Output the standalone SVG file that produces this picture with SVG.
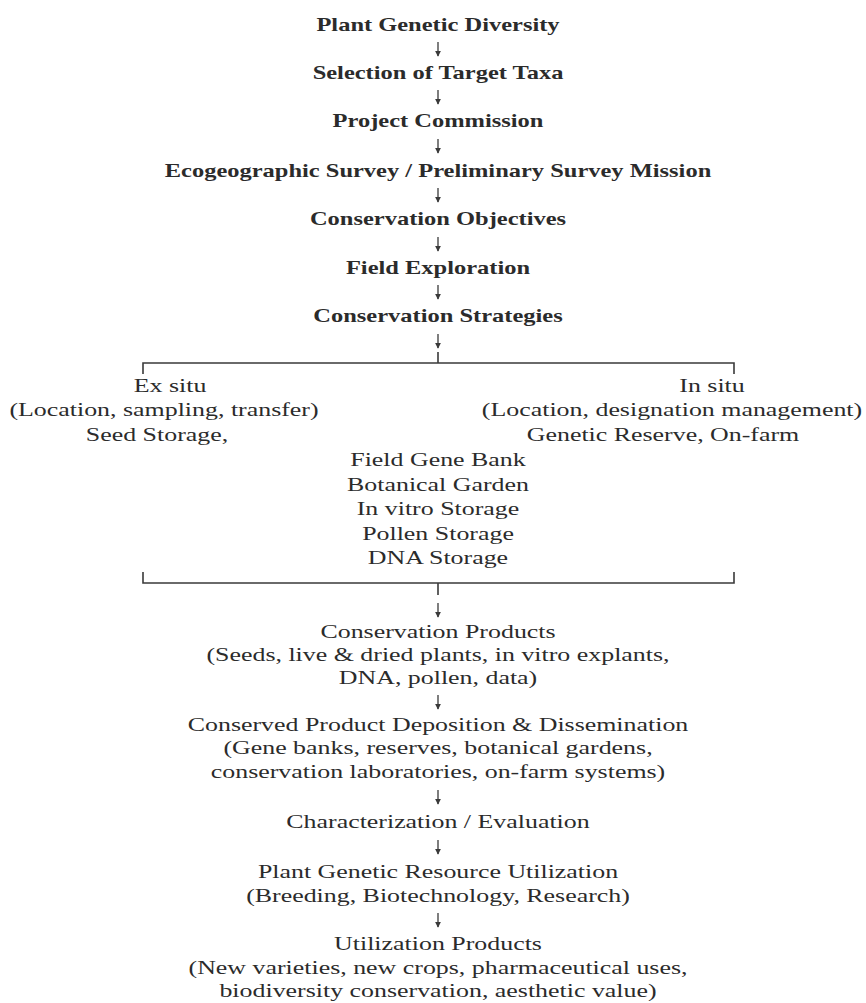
<svg xmlns="http://www.w3.org/2000/svg" width="866" height="1003" viewBox="0 0 866 1003">
<style>
text{font-family:"Liberation Serif","Times New Roman",serif;fill:#2b2b2b;text-anchor:middle}
.b{font-size:18px;font-weight:bold}
.r{font-size:18.5px}
.c line,.c path{stroke:#3a3a3a;fill:none}
.a{stroke-width:1.3}
.k{stroke-width:1.6}
</style>
<defs>
<marker id="h" viewBox="0 0 8 8" refX="7" refY="4" markerWidth="6" markerHeight="6" orient="auto" markerUnits="userSpaceOnUse">
<path d="M0,0 L8,4 L0,8 Z" fill="#3a3a3a" stroke="none"/>
</marker>
</defs>
<g id="n1" transform="translate(438 0) scale(1.36 1)"><text class="b" x="0" y="31">Plant Genetic Diversity</text></g>
<g id="n2" transform="translate(438 0) scale(1.36 1)"><text class="b" x="0" y="79">Selection of Target Taxa</text></g>
<g id="n3" transform="translate(438 0) scale(1.36 1)"><text class="b" x="0" y="127">Project Commission</text></g>
<g id="n4" transform="translate(438 0) scale(1.36 1)"><text class="b" x="0" y="177">Ecogeographic Survey / Preliminary Survey Mission</text></g>
<g id="n5" transform="translate(438 0) scale(1.36 1)"><text class="b" x="0" y="225">Conservation Objectives</text></g>
<g id="n6" transform="translate(438 0) scale(1.36 1)"><text class="b" x="0" y="274">Field Exploration</text></g>
<g id="n7" transform="translate(438 0) scale(1.36 1)"><text class="b" x="0" y="322">Conservation Strategies</text></g>
<g id="exsitu">
<g transform="translate(170 0) scale(1.4 1)"><text class="r" x="0" y="392">Ex situ</text></g>
<g transform="translate(164 0) scale(1.4 1)"><text class="r" x="0" y="416">(Location, sampling, transfer)</text></g>
<g transform="translate(157 0) scale(1.4 1)"><text class="r" x="0" y="441">Seed Storage,</text></g>
</g>
<g id="insitu">
<g transform="translate(712 0) scale(1.4 1)"><text class="r" x="0" y="392">In situ</text></g>
<g transform="translate(672 0) scale(1.4 1)"><text class="r" x="0" y="416">(Location, designation management)</text></g>
<g transform="translate(663 0) scale(1.4 1)"><text class="r" x="0" y="441">Genetic Reserve, On-farm</text></g>
</g>
<g id="exsitu-list" transform="translate(438 0) scale(1.4 1)">
<text class="r" x="0" y="466">Field Gene Bank</text>
<text class="r" x="0" y="491">Botanical Garden</text>
<text class="r" x="0" y="515">In vitro Storage</text>
<text class="r" x="0" y="540">Pollen Storage</text>
<text class="r" x="0" y="564">DNA Storage</text>
</g>
<g id="n8" transform="translate(438 0) scale(1.4 1)">
<text class="r" x="0" y="638">Conservation Products</text>
<text class="r" x="0" y="661">(Seeds, live &amp; dried plants, in vitro explants,</text>
<text class="r" x="0" y="684">DNA, pollen, data)</text>
</g>
<g id="n9" transform="translate(438 0) scale(1.4 1)">
<text class="r" x="0" y="731">Conserved Product Deposition &amp; Dissemination</text>
<text class="r" x="0" y="754">(Gene banks, reserves, botanical gardens,</text>
<text class="r" x="0" y="778">conservation laboratories, on-farm systems)</text>
</g>
<g id="n10" transform="translate(438 0) scale(1.4 1)"><text class="r" x="0" y="828">Characterization / Evaluation</text></g>
<g id="n11" transform="translate(438 0) scale(1.4 1)">
<text class="r" x="0" y="878">Plant Genetic Resource Utilization</text>
<text class="r" x="0" y="902">(Breeding, Biotechnology, Research)</text>
</g>
<g id="n12" transform="translate(438 0) scale(1.4 1)">
<text class="r" x="0" y="950">Utilization Products</text>
<text class="r" x="0" y="974">(New varieties, new crops, pharmaceutical uses,</text>
<text class="r" x="0" y="997">biodiversity conservation, aesthetic value)</text>
</g>
<g id="connectors" class="c">
<line class="a" x1="438" y1="42" x2="438" y2="56" marker-end="url(#h)"/>
<line class="a" x1="438" y1="90" x2="438" y2="104" marker-end="url(#h)"/>
<line class="a" x1="438" y1="139" x2="438" y2="153" marker-end="url(#h)"/>
<line class="a" x1="438" y1="188" x2="438" y2="202" marker-end="url(#h)"/>
<line class="a" x1="438" y1="237" x2="438" y2="251" marker-end="url(#h)"/>
<line class="a" x1="438" y1="285" x2="438" y2="299" marker-end="url(#h)"/>
<line class="a" x1="438" y1="334" x2="438" y2="348" marker-end="url(#h)"/>
<path class="k" d="M438,352 V363 M143,374 V363 H734 V374"/>
<path class="k" d="M143,572 V583 H734 V572 M438,583 V595"/>
<line class="a" x1="438" y1="603" x2="438" y2="617" marker-end="url(#h)"/>
<line class="a" x1="438" y1="695" x2="438" y2="709" marker-end="url(#h)"/>
<line class="a" x1="438" y1="790" x2="438" y2="804" marker-end="url(#h)"/>
<line class="a" x1="438" y1="840" x2="438" y2="854" marker-end="url(#h)"/>
<line class="a" x1="438" y1="913" x2="438" y2="927" marker-end="url(#h)"/>
</g>
</svg>
